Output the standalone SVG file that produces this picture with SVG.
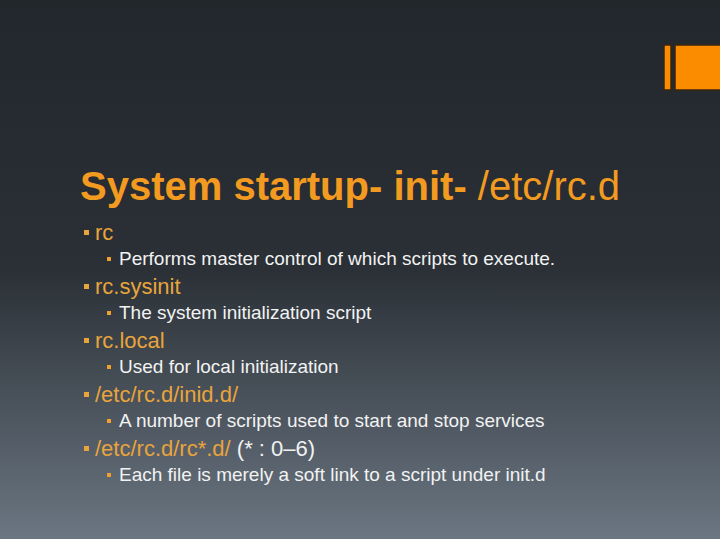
<svg xmlns="http://www.w3.org/2000/svg" width="720" height="539" viewBox="0 0 720 539">
<defs>
<linearGradient id="bg" x1="0" y1="0" x2="0" y2="1">
<stop offset="0" stop-color="#22272c"/><stop offset="0.5" stop-color="#2a3036"/><stop offset="1" stop-color="#6b7682"/>
</linearGradient>
<style>
.t{font-family:"Liberation Sans",Arial,sans-serif}
.l1{font-size:22px;fill:#e9a43c}
.l2{font-size:19px;fill:#f2f2f2}
.b1{fill:#e9a43c}.b2{fill:#f0a030}
</style>
</defs>
<rect width="720" height="539" fill="url(#bg)"/>
<g id="accent" fill="#fb8c00" stroke="#3a2410" stroke-width="1.5">
<rect x="664" y="45" width="7" height="45"/><rect x="675" y="45" width="47" height="45"/>
</g>
<g id="title"><text class="t" x="80" y="200" font-size="40" fill="#f39a20"><tspan font-weight="bold">System startup- init- </tspan><tspan>/etc/rc.d</tspan></text></g>
<g id="items">
<rect class="b1" x="84" y="230" width="5" height="5"/><text class="t l1" x="95" y="240">rc</text>
<rect class="b2" x="107" y="257" width="4" height="4"/><text class="t l2" x="119" y="265">Performs master control of which scripts to execute.</text>
<rect class="b1" x="84" y="284" width="5" height="5"/><text class="t l1" x="95" y="294">rc.sysinit</text>
<rect class="b2" x="107" y="311" width="4" height="4"/><text class="t l2" x="119" y="319">The system initialization script</text>
<rect class="b1" x="84" y="338" width="5" height="5"/><text class="t l1" x="95" y="348">rc.local</text>
<rect class="b2" x="107" y="365" width="4" height="4"/><text class="t l2" x="119" y="373">Used for local initialization</text>
<rect class="b1" x="84" y="392" width="5" height="5"/><text class="t l1" x="95" y="402">/etc/rc.d/inid.d/</text>
<rect class="b2" x="107" y="419" width="4" height="4"/><text class="t l2" x="119" y="427">A number of scripts used to start and stop services</text>
<rect class="b1" x="84" y="446" width="5" height="5"/><text class="t l1" x="95" y="456">/etc/rc.d/rc*.d/ <tspan fill="#f2f2f2">(* : 0–6)</tspan></text>
<rect class="b2" x="107" y="473" width="4" height="4"/><text class="t l2" x="119" y="481">Each file is merely a soft link to a script under init.d</text>
</g>
</svg>
